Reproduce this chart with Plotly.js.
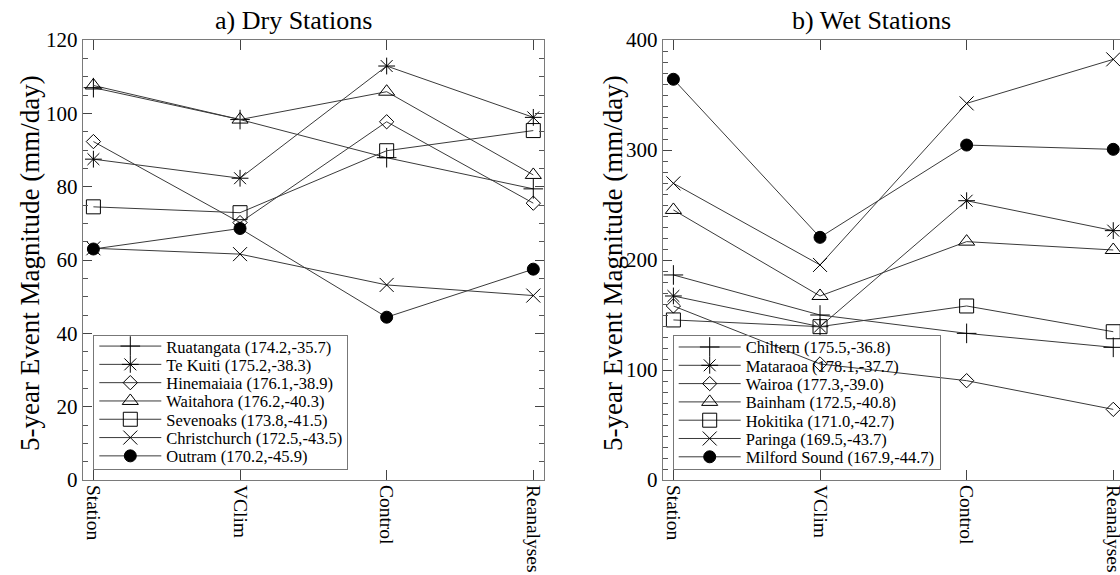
<!DOCTYPE html>
<html>
<head>
<meta charset="utf-8">
<script src="https://cdn.plot.ly/plotly-3.0.1.min.js"></script>
<style>html,body{margin:0;padding:0;background:#fff;}#chart{width:1120px;height:575px;}</style>
</head>
<body>
<div id="chart"></div>
<script>
// Categories (x axis)
const categories = ["Station", "VClim", "Control", "Reanalyses"];

// a) Dry stations
const dryNames = [
  "Ruatangata (174.2,-35.7)",
  "Te Kuiti (175.2,-38.3)",
  "Hinemaiaia (176.1,-38.9)",
  "Waitahora (176.2,-40.3)",
  "Sevenoaks (173.8,-41.5)",
  "Christchurch (172.5,-43.5)",
  "Outram (170.2,-45.9)"
];
const ruatangata   = [107.0, 98.3, 87.9, 79.4];
const teKuiti      = [87.5, 82.3, 112.9, 98.9];
const hinemaiaia   = [92.3, 70.2, 97.7, 75.5];
const waitahora    = [107.6, 98.3, 105.9, 83.2];
const sevenoaks    = [74.5, 72.9, 89.8, 95.3];
const christchurch = [63.2, 61.6, 53.2, 50.3];
const outram       = [63.0, 68.6, 44.4, 57.5];
const dryValues = [ruatangata, teKuiti, hinemaiaia, waitahora, sevenoaks, christchurch, outram];

// b) Wet stations
const wetNames = [
  "Chiltern (175.5,-36.8)",
  "Mataraoa (178.1,-37.7)",
  "Wairoa (177.3,-39.0)",
  "Bainham (172.5,-40.8)",
  "Hokitika (171.0,-42.7)",
  "Paringa (169.5,-43.7)",
  "Milford Sound (167.9,-44.7)"
];
const chiltern     = [186.4, 150.0, 133.3, 120.6];
const mataraoa     = [167.3, 139.4, 253.9, 226.7];
const wairoa       = [158.2, 105.5, 90.3, 64.2];
const bainham      = [245.5, 167.3, 216.7, 209.1];
const hokitika     = [145.5, 139.4, 158.2, 134.8];
const paringa      = [269.7, 195.5, 342.4, 382.4];
const milfordSound = [364.3, 220.6, 304.5, 300.6];
const wetValues = [chiltern, mataraoa, wairoa, bainham, hokitika, paringa, milfordSound];

// Tick labels
const dryTicks = [0, 20, 40, 60, 80, 100, 120];
const wetTicks = [0, 100, 200, 300, 400];

// Marker styles (one per series position)
const symbols = ["cross-thin-open", "asterisk-open", "diamond-open", "triangle-up-open", "square-open", "x-thin-open", "circle"];
const sizes   = [14, 14, 11, 14, 14, 14, 12];

const W = 1120;
const px = v => v / W;
const FONT = "'Liberation Serif', 'Times New Roman', serif";

const traces = [];
function addSeries(names, values, xa, ya, legendId) {
  names.forEach((nm, i) => {
    traces.push({
      type: "scatter", mode: "lines+markers",
      x: categories, y: values[i], name: nm,
      xaxis: xa, yaxis: ya, legend: legendId,
      line: {color: "#3a3a3a", width: 1},
      marker: {symbol: symbols[i], size: sizes[i], color: "#000",
               line: {color: "#000", width: 1}},
      cliponaxis: false
    });
  });
}
addSeries(dryNames, dryValues, "x", "y", "legend");
addSeries(wetNames, wetValues, "x2", "y2", "legend2");

const axisLine = "#7a7a7a";
function xAxis(domain, range, anchor) {
  return {
    domain: domain, anchor: anchor, type: "category",
    categoryorder: "array", categoryarray: categories,
    range: range, showgrid: false, zeroline: false,
    showline: true, linecolor: axisLine, linewidth: 1, mirror: "ticks",
    ticks: "inside", ticklen: 10, tickcolor: "#444", tickwidth: 1,
    tickangle: 90, tickfont: {family: FONT, size: 19.5, color: "#000"}
  };
}
function yAxis(anchor, range, minorDtick, tickvals, mirror) {
  return {
    anchor: anchor, domain: [0, 1], range: range,
    tickvals: tickvals, showgrid: false, zeroline: false,
    showline: true, linecolor: axisLine, linewidth: 1, mirror: mirror,
    ticks: "inside", ticklen: 9, tickcolor: "#444", tickwidth: 1,
    minor: {dtick: minorDtick, ticks: "inside", ticklen: 5, tickcolor: "#555", showgrid: false},
    tickfont: {family: FONT, size: 21, color: "#000"}
  };
}

const legendCommon = {
  xanchor: "left", yanchor: "top",
  bgcolor: "rgba(0,0,0,0)", bordercolor: "#777", borderwidth: 1,
  font: {family: FONT, size: 16.5, color: "#000"}, itemwidth: 62, tracegroupgap: 0
};

const layout = {
  width: 1120, height: 575,
  margin: {l: 0, r: 0, t: 40, b: 95},
  paper_bgcolor: "#fff", plot_bgcolor: "#fff",
  showlegend: true,
  xaxis: xAxis([px(82.7), px(544.3)], [-0.073, 3.075], "y"),
  yaxis: yAxis("x", [0, 120], 5, dryTicks, "ticks"),
  xaxis2: xAxis([px(662.7), 1], [-0.073, 3.046], "y2"),
  yaxis2: yAxis("x2", [0, 400], 10, wetTicks, false),
  legend: Object.assign({x: px(93.3), y: (480 - 335) / 440}, legendCommon),
  legend2: Object.assign({x: px(672.7), y: (480 - 335) / 440}, legendCommon),
  annotations: [
    {text: "a) Dry Stations", xref: "paper", yref: "paper", x: px(293), y: 1 + 20 / 440,
     xanchor: "center", yanchor: "middle", showarrow: false, font: {family: FONT, size: 26, color: "#000"}},
    {text: "b) Wet Stations", xref: "paper", yref: "paper", x: px(871), y: 1 + 20 / 440,
     xanchor: "center", yanchor: "middle", showarrow: false, font: {family: FONT, size: 26, color: "#000"}},
    {text: "5-year Event Magnitude (mm/day)", xref: "paper", yref: "paper", x: px(30), y: (480 - 263) / 440,
     xanchor: "center", yanchor: "middle", textangle: -90, showarrow: false, font: {family: FONT, size: 27, color: "#000"}},
    {text: "5-year Event Magnitude (mm/day)", xref: "paper", yref: "paper", x: px(613), y: (480 - 263) / 440,
     xanchor: "center", yanchor: "middle", textangle: -90, showarrow: false, font: {family: FONT, size: 27, color: "#000"}}
  ]
};

// Tighten legend row spacing to match the reference's compact legend box
function tightenLegends(gd) {
  const ROW = 18.3, TOPPAD = 11.5, BOTPAD = 13;
  ["legend", "legend2"].forEach(id => {
    const lg = gd.querySelector("g." + id);
    if (!lg) return;
    const items = Array.from(lg.querySelectorAll("g.traces"));
    if (items.length < 2) return;
    const bg = lg.querySelector("rect.bg");
    const bgTop = bg.getBoundingClientRect().top;
    const texts = items.map(it => it.querySelector("text.legendtext") || it);
    const c0 = texts[0].getBoundingClientRect();
    const c1 = texts[1].getBoundingClientRect();
    const old = c1.top - c0.top;
    const diff = old - ROW;
    const dy0 = (bgTop + TOPPAD) - (c0.top + c0.height / 2);
    items.forEach((it, i) => {
      const t = it.getAttribute("transform") || "";
      it.setAttribute("transform", t + " translate(0," + (dy0 - i * diff) + ")");
    });
    const newH = TOPPAD + (items.length - 1) * ROW + BOTPAD;
    lg.querySelectorAll("rect.bg").forEach(r => r.setAttribute("height", newH));
  });
}

Plotly.newPlot("chart", traces, layout, {displayModeBar: false, staticPlot: true})
  .then(gd => { try { tightenLegends(gd); } catch (e) {} });
</script>
</body>
</html>
